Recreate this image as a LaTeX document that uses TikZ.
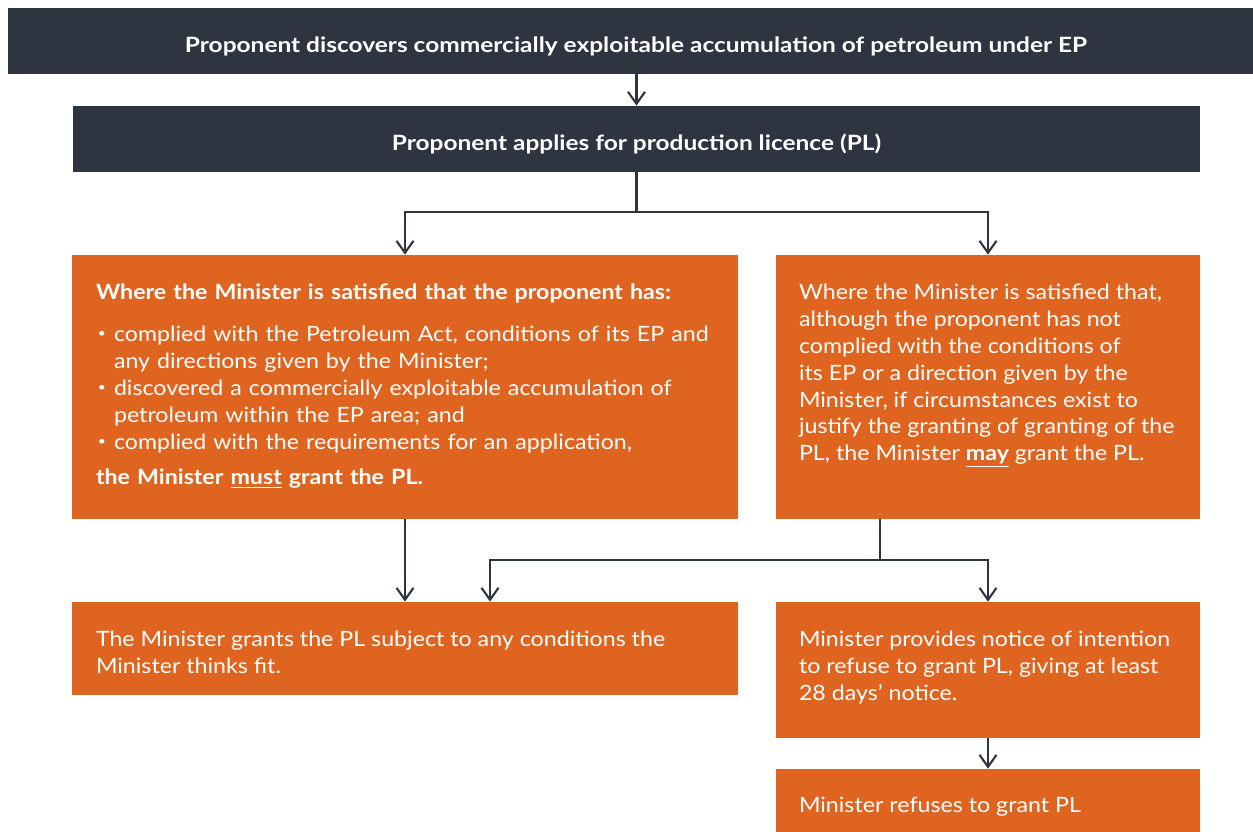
\documentclass[tikz,border=0pt]{standalone}
\usepackage{fontspec}
\setmainfont{Lato}[FakeStretch=1.1]
\newfontfamily\widebold{Lato}[FakeStretch=1.16]
\usetikzlibrary{arrows.meta}
\usetikzlibrary{calc}

\definecolor{slate}{HTML}{2F3441}
\definecolor{rust}{HTML}{DF6420}
\newcommand{\pbul}{\par\hangindent=0.36cm\hangafter=1\noindent\makebox[0.36cm][l]{\hspace{0.04cm}\raisebox{0.35ex}{\scalebox{0.6}{\textbullet}}}}

\tikzset{
  darkbox/.style={fill=slate,text=white,inner sep=0pt,text height=13pt,text depth=0pt,font=\widebold\bfseries\fontsize{12}{15.3}\selectfont},
  orangebox/.style={fill=rust,inner sep=0pt},
  boxtext/.style={text=white,anchor=north west,inner sep=0pt,align=left,font=\fontsize{12}{15.3}\selectfont},
  flow/.style={draw=slate,line width=1.2pt,-{Straight Barb[length=2.4mm,width=3.4mm]}}
}

\begin{document}
\begin{tikzpicture}
\useasboundingbox (0,0) rectangle (25.06,-16.64);
% boxes
\node[darkbox,minimum width=24.9cm,minimum height=1.32cm] (discover) at (12.61,-0.82) {\hspace*{0.22cm}Proponent discovers commercially exploitable accumulation of petroleum under EP};
\node[darkbox,minimum width=22.54cm,minimum height=1.32cm] (apply) at (12.73,-2.78) {Proponent applies for production licence (PL)};
\node[orangebox,minimum width=13.32cm,minimum height=5.28cm] (must) at (8.10,-7.74) {};
\node[orangebox,minimum width=8.48cm,minimum height=5.28cm] (may) at (19.76,-7.74) {};
\node[orangebox,minimum width=13.32cm,minimum height=1.86cm] (grant) at (8.10,-12.97) {};
\node[orangebox,minimum width=8.48cm,minimum height=2.72cm] (notice) at (19.76,-13.40) {};
\node[orangebox,minimum width=8.48cm,minimum height=1.26cm] (refuse) at (19.76,-16.01) {};
% texts
\node[boxtext,text width=12.6cm] (musttxt) at ([shift={(0.48,-0.58)}]must.north west) {%
  \textbf{Where the Minister is satisfied that the proponent has:}\par\vspace{8.5pt}
  \pbul complied with the Petroleum Act, conditions of its EP and\newline any directions given by the Minister;
  \pbul discovered a commercially exploitable accumulation of\newline petroleum within the EP area; and
  \pbul complied with the requirements for an application,\par\vspace{5pt}
  \noindent\textbf{the Minister \underline{must} grant the PL.}};
\node[boxtext] (maytxt) at ([shift={(0.46,-0.58)}]may.north west) {Where the Minister is satisfied that,\\although the proponent has not\\complied with the conditions of\\its EP or a direction given by the\\Minister, if circumstances exist to\\justify the granting of granting of the\\PL, the Minister \textbf{\underline{may}} grant the PL.};
\node[boxtext] (granttxt) at ([shift={(0.48,-0.58)}]grant.north west) {The Minister grants the PL subject to any conditions the\\Minister thinks fit.};
\node[boxtext] (noticetxt) at ([shift={(0.46,-0.58)}]notice.north west) {Minister provides notice of intention\\to refuse to grant PL, giving at least\\28 days' notice.};
\node[boxtext] (refusetxt) at ([shift={(0.46,-0.56)}]refuse.north west) {Minister refuses to grant PL};
% connectors
\draw[flow] (apply.north |- discover.south) -- (apply.north);
\draw[flow] (apply.south) -- ++(0,-0.8) -| (must.north);
\draw[flow] (apply.south) -- ++(0,-0.8) -| (may.north);
\draw[flow] (must.south) -- (grant.north);
\draw[flow] ([xshift=-2.16cm]may.south) -- ++(0,-0.82) -| ([xshift=1.7cm]grant.north);
\draw[flow] ([xshift=-2.16cm]may.south) -- ++(0,-0.82) -| (notice.north);
\draw[flow] (notice.south) -- (refuse.north);
\end{tikzpicture}
\end{document}
